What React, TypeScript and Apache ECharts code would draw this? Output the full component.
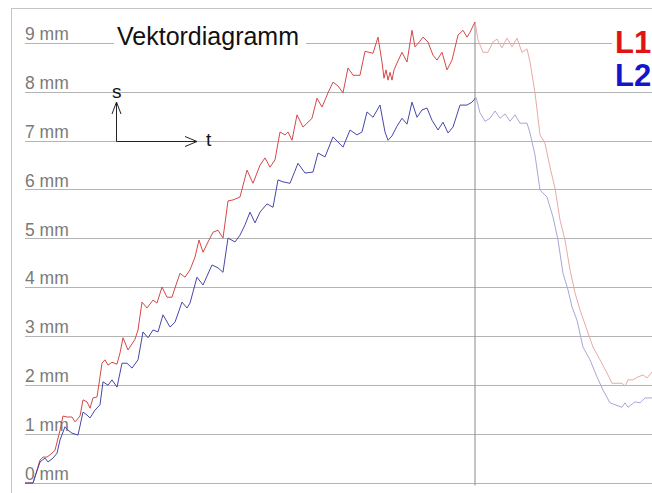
import React, { useEffect, useRef } from "react";
import * as echarts from "echarts";

// time samples (t) and displacement (mm) for L1
const tL1 = [0, 8, 15, 18, 22, 27, 30, 35, 38, 42, 47, 50, 55, 58, 62, 65, 68, 72, 77, 80, 83, 87, 92, 95, 98, 103, 110, 113, 117, 122, 128, 132, 137, 142, 147, 150, 155, 160, 165, 170, 174, 178, 183, 188, 193, 198, 203, 208, 215, 222, 228, 235, 240, 245, 250, 255, 260, 263, 267, 272, 278, 287, 292, 297, 303, 308, 313, 318, 323, 328, 335, 340, 348, 353, 357, 359, 361, 363, 365, 367, 369, 372, 377, 382, 387, 390, 395, 398, 403, 408, 412, 417, 422, 427, 433, 438, 442, 445, 450, 453, 458, 463, 468, 472, 477, 482, 487, 492, 497, 502, 505, 510, 515, 520, 525, 530, 535, 540, 545, 550, 555, 562, 568, 575, 582, 587, 592, 597, 600, 603, 608, 613, 618, 622, 627];
const vL1 = [0, 0, 0.47, 0.53, 0.53, 0.61, 0.67, 1.08, 1.37, 1.35, 1.35, 1.25, 1.37, 1.7, 1.66, 1.53, 1.74, 1.76, 2.45, 2.52, 2.41, 2.47, 2.43, 2.66, 2.97, 2.72, 2.94, 3.13, 3.7, 3.58, 3.74, 3.68, 4.01, 3.8, 3.8, 3.99, 4.29, 4.21, 4.36, 4.62, 4.97, 4.72, 4.93, 5.13, 5.17, 5.01, 5.77, 5.79, 5.85, 6.4, 6.13, 6.5, 6.65, 6.46, 6.61, 7.18, 7.12, 7.18, 7.01, 7.53, 7.28, 7.46, 7.87, 7.69, 7.98, 8.2, 8.12, 7.98, 8.49, 8.34, 8.34, 8.83, 8.79, 9.12, 8.61, 8.28, 8.45, 8.24, 8.4, 8.24, 8.45, 8.59, 8.81, 8.61, 9.26, 8.92, 9.04, 9.12, 9.02, 8.75, 8.65, 8.81, 8.45, 8.65, 9.16, 9.26, 9.12, 9.22, 9.43, 9.06, 8.81, 8.81, 9.02, 9.08, 8.9, 9.1, 8.92, 9.1, 8.81, 8.88, 8.61, 7.98, 7.12, 6.95, 6.46, 6.03, 5.38, 4.97, 4.36, 3.89, 3.54, 3.13, 2.78, 2.52, 2.25, 2.04, 2.04, 2.04, 1.98, 2.11, 2.11, 2.17, 2.21, 2.15, 2.27];

// time samples (t) and displacement (mm) for L2
const tL2 = [0, 8, 15, 20, 23, 28, 32, 35, 40, 43, 47, 53, 58, 62, 65, 70, 75, 78, 83, 87, 92, 97, 102, 107, 113, 118, 123, 128, 133, 138, 145, 150, 157, 162, 165, 172, 178, 187, 193, 198, 203, 210, 215, 220, 225, 230, 235, 242, 248, 253, 258, 265, 273, 280, 288, 293, 300, 308, 318, 325, 332, 337, 342, 348, 355, 360, 363, 367, 372, 377, 382, 387, 392, 397, 402, 407, 413, 418, 423, 428, 435, 442, 447, 451, 455, 460, 465, 470, 475, 480, 485, 490, 495, 502, 505, 510, 515, 522, 528, 533, 538, 543, 547, 552, 558, 565, 572, 578, 585, 590, 597, 600, 603, 610, 615, 620, 627];
const vL2 = [0, 0, 0.43, 0.51, 0.43, 0.51, 0.61, 0.88, 1.15, 1.08, 1.02, 0.98, 1.45, 1.39, 1.33, 1.49, 1.6, 2.07, 2.0, 2.11, 1.96, 2.45, 2.45, 2.35, 2.52, 3.09, 2.97, 3.13, 3.09, 3.44, 3.19, 3.29, 3.7, 3.58, 3.68, 4.21, 4.05, 4.46, 4.4, 4.31, 5.01, 4.93, 5.07, 5.28, 5.54, 5.32, 5.54, 5.71, 5.64, 6.2, 6.16, 6.13, 6.54, 6.34, 6.36, 6.75, 6.67, 7.08, 6.87, 7.22, 7.12, 7.18, 7.59, 7.48, 7.73, 7.18, 7.01, 7.1, 7.3, 7.46, 7.34, 7.79, 7.48, 7.63, 7.67, 7.42, 7.22, 7.38, 7.16, 7.28, 7.73, 7.73, 7.79, 7.89, 7.57, 7.4, 7.46, 7.61, 7.46, 7.55, 7.4, 7.53, 7.36, 7.36, 7.16, 6.71, 5.99, 5.85, 5.44, 4.97, 4.29, 3.95, 3.6, 3.33, 2.78, 2.52, 2.17, 1.9, 1.64, 1.6, 1.55, 1.64, 1.55, 1.66, 1.64, 1.74, 1.74];

const yTicks = [0, 1, 2, 3, 4, 5, 6, 7, 8, 9];
const markerT = 450;
const markerTop = 9.43;
const markerBottom = -0.05;
const seriesNames = ["L1", "L2"];

const GRID_LEFT = 25;
const W = 652;

function splitGradient(dark: string, light: string) {
  const off = (GRID_LEFT + markerT) / W;
  return new echarts.graphic.LinearGradient(
    0,
    0,
    W,
    0,
    [
      { offset: 0, color: dark },
      { offset: off, color: dark },
      { offset: off + 0.0005, color: light },
      { offset: 1, color: light },
    ],
    true
  );
}

export default function App() {
  const ref = useRef<HTMLDivElement>(null);
  useEffect(() => {
    if (!ref.current) return;
    const chart = echarts.init(ref.current, null, { renderer: "svg" });
    const d1 = tL1.map((t, i) => [t, vL1[i]]);
    const d2 = tL2.map((t, i) => [t, vL2[i]]);
    const arrowStyle = { stroke: "#222222", lineWidth: 1, fill: null };
    chart.setOption({
      animation: false,
      backgroundColor: "#ffffff",
      grid: { left: GRID_LEFT, right: 0, top: 43, bottom: 10 },
      xAxis: {
        type: "value",
        min: 0,
        max: 627,
        show: false,
        splitLine: { show: false },
      },
      yAxis: {
        type: "value",
        min: yTicks[0],
        max: yTicks[yTicks.length - 1],
        interval: 1,
        axisLine: { show: false },
        axisTick: { show: false },
        axisLabel: {
          inside: true,
          margin: 0,
          verticalAlign: "bottom",
          formatter: "{value} mm",
          fontFamily: "Liberation Sans, Arial, sans-serif",
          fontSize: 17.5,
          color: "#7a7a7a",
        },
        splitLine: { lineStyle: { color: "#b4b4b4", width: 1 } },
      },
      series: [
        {
          name: seriesNames[0],
          type: "line",
          data: d1,
          showSymbol: false,
          clip: false,
          z: 3,
          itemStyle: { color: "#d24848" },
          lineStyle: { width: 1, color: splitGradient("#d24848", "#e9a8a8") },
        },
        {
          name: seriesNames[1],
          type: "line",
          data: d2,
          showSymbol: false,
          clip: false,
          z: 3,
          itemStyle: { color: "#4646a8" },
          lineStyle: { width: 1, color: splitGradient("#4646a8", "#a6a6d8") },
        },
        {
          name: "marker",
          type: "line",
          data: [
            [markerT, markerTop],
            [markerT, markerBottom],
          ],
          showSymbol: false,
          clip: false,
          silent: true,
          z: 2,
          lineStyle: { width: 1, color: "#8a8a8a" },
          itemStyle: { color: "#8a8a8a" },
        },
      ],
      graphic: [
        { type: "line", z: 20, shape: { x1: 11, y1: 8.5, x2: 652, y2: 8.5 }, style: { stroke: "#c4c4c4", lineWidth: 1 } },
        { type: "line", z: 20, shape: { x1: 11.5, y1: 8, x2: 11.5, y2: 493 }, style: { stroke: "#c4c4c4", lineWidth: 1 } },
        { type: "rect", shape: { x: 114, y: 22, width: 192, height: 26 }, style: { fill: "#ffffff" }, z: 10 },
        {
          type: "text",
          x: 117,
          y: 23,
          z: 11,
          style: { text: "Vektordiagramm", font: "25px 'Liberation Sans', Arial, sans-serif", fill: "#111111", textVerticalAlign: "top" },
        },
        { type: "rect", shape: { x: 612, y: 28, width: 40, height: 26 }, style: { fill: "#ffffff" }, z: 10 },
        {
          type: "text",
          x: 615,
          y: 27,
          z: 11,
          style: { text: seriesNames[0], font: "bold 31px 'Liberation Sans', Arial, sans-serif", fill: "#e01414", textVerticalAlign: "top" },
        },
        {
          type: "text",
          x: 615,
          y: 60,
          z: 11,
          style: { text: seriesNames[1], font: "bold 31px 'Liberation Sans', Arial, sans-serif", fill: "#1414cc", textVerticalAlign: "top" },
        },
        { type: "line", z: 20, shape: { x1: 116.5, y1: 141.5, x2: 116.5, y2: 102 }, style: arrowStyle },
        { type: "polyline", z: 20, shape: { points: [[112, 114], [116.5, 102], [121, 114]] }, style: arrowStyle },
        { type: "line", z: 20, shape: { x1: 116.5, y1: 141.5, x2: 197, y2: 141.5 }, style: arrowStyle },
        { type: "polyline", z: 20, shape: { points: [[185, 136.5], [197, 141.5], [185, 146.5]] }, style: arrowStyle },
        {
          type: "text",
          x: 112,
          y: 82,
          z: 20,
          style: { text: "s", font: "19px 'Liberation Sans', Arial, sans-serif", fill: "#111", textVerticalAlign: "top" },
        },
        {
          type: "text",
          x: 206,
          y: 130,
          z: 20,
          style: { text: "t", font: "19px 'Liberation Sans', Arial, sans-serif", fill: "#111", textVerticalAlign: "top" },
        },
      ],
    });
    return () => chart.dispose();
  }, []);
  return (
    <div
      ref={ref}
      style={{ position: "fixed", left: 0, top: 0, width: 652, height: 493, background: "#fff" }}
    />
  );
}
